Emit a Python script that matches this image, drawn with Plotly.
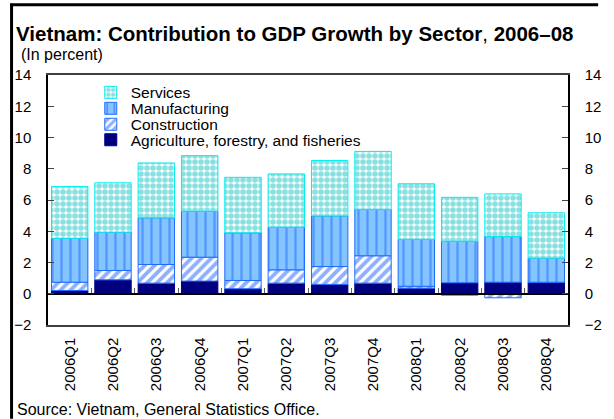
import plotly.graph_objects as go

quarters = ["2006Q1", "2006Q2", "2006Q3", "2006Q4", "2007Q1", "2007Q2",
            "2007Q3", "2007Q4", "2008Q1", "2008Q2", "2008Q3", "2008Q4"]
agriculture = [0.21, 0.89, 0.68, 0.81, 0.32, 0.68, 0.60, 0.68, 0.36, 0.70, 0.74, 0.74]
construction = [0.53, 0.60, 1.19, 1.53, 0.53, 0.85, 1.14, 1.75, 0.12, -0.09, -0.26, 0.0]
manufacturing = [2.81, 2.45, 2.99, 2.94, 3.05, 2.73, 3.24, 2.96, 3.00, 2.66, 2.92, 1.54]
services = [3.31, 3.16, 3.51, 3.56, 3.55, 3.41, 3.55, 3.72, 3.56, 2.81, 2.73, 2.90]
y_ticks = [-2, 0, 2, 4, 6, 8, 10, 12, 14]

FONT = "Liberation Sans, Arial, sans-serif"
W, H = 614, 419
L, R, T, B = 48, 31, 74.5, 94
pw, ph = W - L - R, H - T - B
FS = 16
TFS = 15
LFS = 15.5


def px_x(p):
    return (p - L) / pw


def px_y(p):
    return (H - B - p) / ph


fig = go.Figure()
fig.add_trace(go.Bar(
    name="Agriculture, forestry, and fisheries", x=quarters, y=agriculture,
    legend="legend4",
    marker=dict(color="#000080", line=dict(color="#000080", width=1)),
))
fig.add_trace(go.Bar(
    name="Construction", x=quarters, y=construction, legend="legend3",
    marker=dict(color="white", line=dict(color="#1E6BFF", width=1),
                pattern=dict(shape="/", fgcolor="#1F62FF", bgcolor="white",
                             size=7, solidity=0.55)),
))
fig.add_trace(go.Bar(
    name="Manufacturing", x=quarters, y=manufacturing, legend="legend2",
    marker=dict(color="#84C4FF", line=dict(color="#1E6BFF", width=1),
                pattern=dict(shape="|", fgcolor="#1F6AFF", bgcolor="#84C4FF",
                             size=9, solidity=0.25)),
))
fig.add_trace(go.Bar(
    name="Services", x=quarters, y=services, legend="legend",
    marker=dict(color="white", line=dict(color="#00EEEE", width=1),
                pattern=dict(shape=".", fgcolor="#14C2C2", bgcolor="white",
                             size=6, solidity=0.68)),
))
# helper traces for the zero-line axis and right-hand axis
fig.add_trace(go.Scatter(x=quarters, y=[None] * len(quarters), xaxis="x2",
                         yaxis="y", showlegend=False, hoverinfo="skip"))
fig.add_trace(go.Scatter(x=quarters, y=[None] * len(quarters), xaxis="x",
                         yaxis="y2", showlegend=False, hoverinfo="skip"))


def leg(py):
    return dict(x=px_x(92), y=px_y(py), xanchor="left", yanchor="middle",
                bgcolor="rgba(0,0,0,0)", font=dict(size=LFS, family=FONT),
                borderwidth=0)


yr = [-2, 14]
fig.update_layout(
    width=W, height=H,
    margin=dict(l=L, r=R, t=T, b=B, pad=0),
    paper_bgcolor="white", plot_bgcolor="white",
    barmode="relative", bargap=0.16,
    font=dict(family=FONT, size=FS, color="black"),
    showlegend=True,
    legend=leg(92.3), legend2=leg(108.3), legend3=leg(124.3), legend4=leg(139.8),
    xaxis=dict(type="category", categoryarray=quarters, range=[-0.5, 11.5],
               tickangle=-90, ticks="", showline=True, linecolor="#404040",
               linewidth=1.5, mirror=True, showgrid=False, ticklabelstandoff=5,
               tickfont=dict(size=TFS)),
    xaxis2=dict(type="category", categoryarray=quarters, range=[-0.5, 11.5],
                overlaying="x", anchor="free", position=(0 - yr[0]) / (yr[1] - yr[0]),
                showline=True, linecolor="black", linewidth=1.5,
                ticks="inside", tickson="boundaries", ticklen=5,
                tickcolor="#606060", showticklabels=False, showgrid=False),
    yaxis=dict(range=yr, tickvals=y_ticks, ticks="inside", ticklen=6,
               showline=True, linecolor="black", linewidth=1.5, showgrid=False,
               zeroline=False, ticklabelstandoff=12, tickfont=dict(size=TFS)),
    yaxis2=dict(range=yr, tickvals=y_ticks, ticks="inside", ticklen=6,
                overlaying="y", side="right", showline=True, linecolor="black",
                linewidth=1.5, showgrid=False, zeroline=False,
                ticklabelstandoff=12, tickfont=dict(size=TFS)),
)

fig.add_annotation(text="<b>Vietnam: Contribution to GDP Growth by Sector</b>, <b>2006–08</b>",
                   xref="paper", yref="paper", x=px_x(13), y=px_y(33),
                   xanchor="left", yanchor="middle", showarrow=False,
                   font=dict(size=20.5, family=FONT))
fig.add_annotation(text="(In percent)", xref="paper", yref="paper",
                   x=px_x(18), y=px_y(54), xanchor="left", yanchor="middle",
                   showarrow=False, font=dict(size=FS, family=FONT))
fig.add_annotation(text="Source: Vietnam, General Statistics Office.",
                   xref="paper", yref="paper", x=px_x(14), y=px_y(410),
                   xanchor="left", yanchor="middle", showarrow=False,
                   font=dict(size=FS, family=FONT))
# outer frame lines (left and top) of the original figure box
fig.add_shape(type="line", xref="paper", yref="paper", x0=px_x(10.5), x1=px_x(10.5),
              y0=px_y(3), y1=px_y(H), line=dict(color="black", width=3))
fig.add_shape(type="line", xref="paper", yref="paper", x0=px_x(9), x1=px_x(W),
              y0=px_y(4), y1=px_y(4), line=dict(color="black", width=3))

fig.write_html("out.html")
